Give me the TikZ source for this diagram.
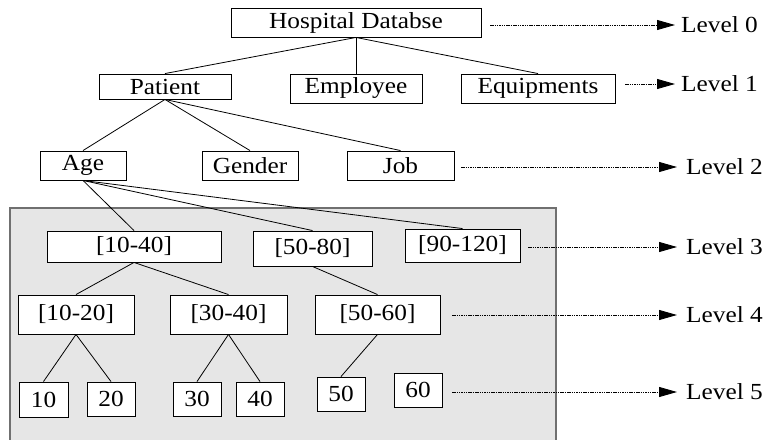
\documentclass[tikz,border=0pt]{standalone}
\usepackage{fontspec}
\setmainfont{Liberation Serif}[FakeStretch=1.1]
\usetikzlibrary{arrows.meta}
\definecolor{regionfill}{HTML}{E6E6E6}
\definecolor{regionline}{HTML}{707070}
\begin{document}
\begin{tikzpicture}[x=1pt,y=-1pt,
  box/.style={draw=black, line width=0.9pt, fill=white, inner sep=0pt,
    font=\fontsize{23}{27}\selectfont},
  lvltext/.style={anchor=base west, inner sep=0pt, font=\fontsize{23}{27}\selectfont},
  edge/.style={draw=black, line width=0.8pt},
  lvlarrow/.style={draw=black, line width=0.8pt, dash pattern=on 1.5pt off 0.8pt,
    -{Triangle[length=18pt,width=10pt]}},
  region/.style={fill=regionfill}
]
\useasboundingbox (0,0) rectangle (768,439);
% shaded region
\fill[region] (10,208) rectangle (556,445);
\draw[regionline, line width=1.3pt] (10,445) -- (10,208) -- (556,208) -- (556,445);

% nodes
\node[box, minimum width=250pt, minimum height=29pt] (hosp) at (356,22.5) {Hospital Databse};
\node[box, minimum width=132pt, minimum height=25pt] (patient) at (165,86.5) {Patient};
\node[box, minimum width=132pt, minimum height=29pt] (employee) at (356,88.5) {Employee};
\node[box, minimum width=154pt, minimum height=29pt] (equip) at (538,88.5) {Equipments};
\node[box, minimum width=86pt, minimum height=29pt] (age) at (83,165.5) {Age};
\node[box, minimum width=96pt, minimum height=29pt] (gender) at (250,165.5) {Gender};
\node[box, minimum width=107pt, minimum height=29pt] (job) at (400.5,165.5) {Job};
\node[box, minimum width=174pt, minimum height=31pt] (r1040) at (134,246.5) {[10-40]};
\node[box, minimum width=119pt, minimum height=35pt] (r5080) at (312.5,248.5) {[50-80]};
\node[box, minimum width=115pt, minimum height=33pt] (r90120) at (462.5,245.5) {[90-120]};
\node[box, minimum width=116pt, minimum height=39pt] (r1020) at (76,314.5) {[10-20]};
\node[box, minimum width=117pt, minimum height=39pt] (r3040) at (228.5,314.5) {[30-40]};
\node[box, minimum width=125pt, minimum height=39pt] (r5060) at (377.5,314.5) {[50-60]};
\node[box, minimum width=49pt, minimum height=35pt] (n10) at (43.5,399.5) {10};
\node[box, minimum width=48pt, minimum height=34pt] (n20) at (111,399) {20};
\node[box, minimum width=48pt, minimum height=34pt] (n30) at (197,399) {30};
\node[box, minimum width=48pt, minimum height=34pt] (n40) at (260,399) {40};
\node[box, minimum width=48pt, minimum height=34pt] (n50) at (341,394) {50};
\node[box, minimum width=48pt, minimum height=34pt] (n60) at (418,390) {60};

% tree edges
\draw[edge] (hosp.south) -- (patient.north);
\draw[edge] (hosp.south) -- (employee.north);
\draw[edge] (hosp.south) -- (equip.north);
\draw[edge] (patient.south) -- (age.north);
\draw[edge] (patient.south) -- (gender.north);
\draw[edge] (patient.south) -- (job.north);
\draw[edge] (age.south) -- (r1040.north);
\draw[edge] (age.south) -- (r5080.north);
\draw[edge] (age.south) -- (r90120.north);
\draw[edge] (r1040.south) -- (r1020.north);
\draw[edge] (r1040.south) -- (r3040.north);
\draw[edge] (r5080.south) -- (r5060.north);
\draw[edge] (r1020.south) -- (n10.north);
\draw[edge] (r1020.south) -- (n20.north);
\draw[edge] (r3040.south) -- (n30.north);
\draw[edge] (r3040.south) -- (n40.north);
\draw[edge] (r5060.south) -- (n50.north);

% level labels
\node[lvltext] (L0) at (681,32.5) {Level 0};
\node[lvltext] (L1) at (681,91.5) {Level 1};
\node[lvltext] (L2) at (686,174.5) {Level 2};
\node[lvltext] (L3) at (686,254.5) {Level 3};
\node[lvltext] (L4) at (686,322.5) {Level 4};
\node[lvltext] (L5) at (686,399.5) {Level 5};

\coordinate (s0) at (490,25);  \coordinate (e0) at (675,25);
\coordinate (s1) at (625,84);  \coordinate (e1) at (675,84);
\coordinate (s2) at (461,167); \coordinate (e2) at (677,167);
\coordinate (s3) at (528,247); \coordinate (e3) at (677,247);
\coordinate (s4) at (452,315); \coordinate (e4) at (677,315);
\coordinate (s5) at (452,392); \coordinate (e5) at (677,392);
\draw[lvlarrow] (s0) -- (e0);
\draw[lvlarrow] (s1) -- (e1);
\draw[lvlarrow] (s2) -- (e2);
\draw[lvlarrow] (s3) -- (e3);
\draw[lvlarrow] (s4) -- (e4);
\draw[lvlarrow] (s5) -- (e5);
\end{tikzpicture}
\end{document}
